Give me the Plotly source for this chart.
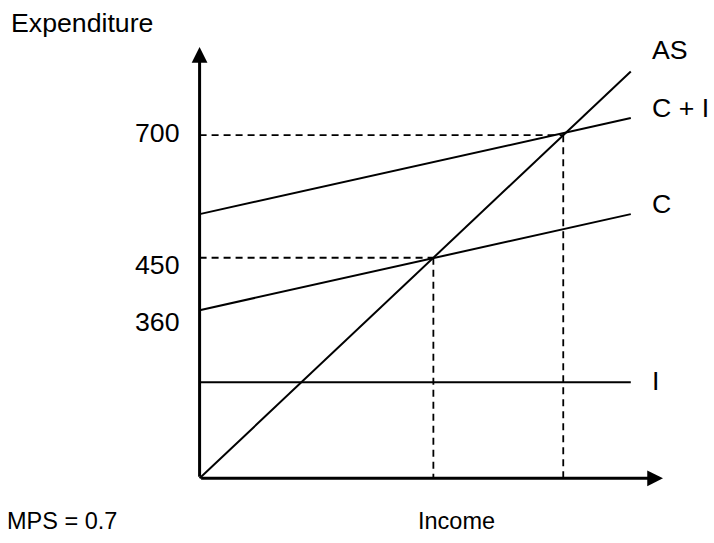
import plotly.graph_objects as go

# ---- data ----
income_span = [0, 830]              # x extent of the drawn schedules
aggregate_supply = [0, 830]         # AS (Y = E)
consumption = [343, 539]            # C schedule at the two ends
c_plus_i = [539, 735]               # C + I schedule at the two ends
investment = [196, 196]             # I (autonomous)
equilibrium_income = [450, 700]     # Y* for C and for C + I
equilibrium_expenditure = [450, 700]
y_label_values = [700, 450, 360]
y_label_texts = ["700", "450", "360"]
line_names = ["AS", "C + I", "C", "I"]

# ---- geometry ----
W, H = 714, 543
sx, sy = 0.519, 0.49            # px per unit
ox, oy = 200, 478               # origin in pixels
x_range = [-30, 892]
y_range = [-30, 880]
l = ox + x_range[0] * sx
r = W - (l + (x_range[1] - x_range[0]) * sx)
b = H - oy + y_range[0] * sy
t = H - b - (y_range[1] - y_range[0]) * sy
pw = W - l - r
ph = H - t - b


def px_to_paper(px, py):
    return (px - l) / pw, (H - py - b) / ph


FONT = "Liberation Sans, Arial, sans-serif"
NARROW = "Liberation Sans Narrow, Arial Narrow, Liberation Sans, Arial, sans-serif"
FS = 26.7
FS_NARROW = 23.5

fig = go.Figure()

solid = dict(color="black", width=2)
dashed = dict(color="black", width=1.8, dash="7px,5px")

for yvals in (aggregate_supply, c_plus_i, consumption, investment):
    fig.add_trace(go.Scatter(x=income_span, y=yvals, mode="lines", line=solid,
                             hoverinfo="skip", showlegend=False))

for yi, ye in zip(equilibrium_income, equilibrium_expenditure):
    fig.add_trace(go.Scatter(x=[0, yi], y=[ye, ye], mode="lines", line=dashed,
                             hoverinfo="skip", showlegend=False))
    fig.add_trace(go.Scatter(x=[yi, yi], y=[ye, 0], mode="lines", line=dashed,
                             hoverinfo="skip", showlegend=False))

# axes with arrows
for tip in ((x_range[1], 0), (0, y_range[1])):
    fig.add_annotation(x=tip[0], y=tip[1], ax=0, ay=0, xref="x", yref="y",
                       axref="x", ayref="y", text="", showarrow=True, arrowhead=2,
                       arrowwidth=3, arrowsize=1.05, arrowcolor="black")

# y labels
yshifts = [2, -7, -20]
for v, txt, ys in zip(y_label_values, y_label_texts, yshifts):
    fig.add_annotation(x=0, y=v, xref="x", yref="y", text=txt, showarrow=False,
                       xanchor="right", yanchor="middle", xshift=-18, yshift=ys,
                       font=dict(family=FONT, size=FS, color="black"))

# line labels
ends = [aggregate_supply[1], c_plus_i[1], consumption[1], investment[1]]
lshifts = [22, 10, 10, 1]
for name, e, ys in zip(line_names, ends, lshifts):
    fig.add_annotation(x=income_span[1], y=e, xref="x", yref="y", text=name,
                       showarrow=False, xanchor="left", yanchor="middle", xshift=19,
                       yshift=ys, font=dict(family=FONT, size=FS, color="black"))

# axis titles and note
xe, ye_ = px_to_paper(10, 23)
xm, ym = px_to_paper(6, 521)
xi, yi_ = px_to_paper(416, 521)
fig.add_annotation(x=xe, y=ye_, xref="paper", yref="paper", text="Expenditure",
                   showarrow=False, xanchor="left", yanchor="middle",
                   font=dict(family=FONT, size=FS, color="black"))
fig.add_annotation(x=xm, y=ym, xref="paper", yref="paper", text="MPS = 0.7",
                   showarrow=False, xanchor="left", yanchor="middle",
                   font=dict(family=NARROW, size=FS_NARROW, color="black"))
fig.add_annotation(x=xi, y=yi_, xref="paper", yref="paper", text="Income",
                   showarrow=False, xanchor="left", yanchor="middle",
                   font=dict(family=NARROW, size=FS_NARROW, color="black"))

fig.update_layout(
    width=W, height=H, autosize=False,
    margin=dict(l=l, r=r, t=t, b=b, pad=0),
    paper_bgcolor="white", plot_bgcolor="white",
    xaxis=dict(range=x_range, visible=False, showgrid=False, zeroline=False, fixedrange=True),
    yaxis=dict(range=y_range, visible=False, showgrid=False, zeroline=False, fixedrange=True),
    showlegend=False,
)

fig.write_html("out.html",
               config={"displayModeBar": False, "staticPlot": True},
               post_script="document.body.style.margin='0';document.body.style.overflow='hidden';")
